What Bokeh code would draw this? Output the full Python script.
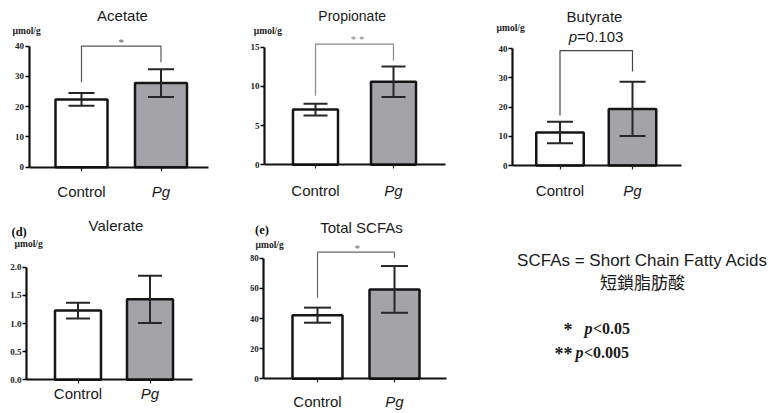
from bokeh.plotting import figure
from bokeh.layouts import column, row
from bokeh.models import (Range1d, LinearAxis, FixedTicker, ColumnDataSource,
                          Whisker, TeeHead, CustomJSTickFormatter, NumeralTickFormatter)
from bokeh.core.properties import value
from bokeh.embed import file_html
from bokeh.resources import INLINE

# ---------------- data ----------------
groups = ["Control", "Pg"]
group_style = ["normal", "italic"]

acetate_mean = [22.4, 27.8]
acetate_sem = [2.1, 4.6]
propionate_mean = [7.05, 10.6]
propionate_sem = [0.75, 1.95]
butyrate_mean = [11.3, 19.4]
butyrate_sem = [3.7, 9.3]
valerate_mean = [1.23, 1.43]
valerate_sem = [0.14, 0.42]
total_mean = [42.2, 59.3]
total_sem = [5.0, 15.5]

acetate_ticks = [0, 10, 20, 30, 40]
propionate_ticks = [0, 5, 10, 15]
butyrate_ticks = [0, 10, 20, 30, 40]
valerate_ticks = [0.0, 0.5, 1.0, 1.5, 2.0]
total_ticks = [0, 20, 40, 60, 80]

# significance brackets: [left leg end, top, right leg end]
acetate_bracket = [28.1, 40.0, 34.7]
propionate_bracket = [8.8, 15.4, 13.3]
butyrate_bracket = [17.1, 39.4, 32.2]
total_bracket = [53.7, 84.0, 80.3]

titles = ["Acetate", "Propionate", "Butyrate", "Valerate", "Total SCFAs"]
sig_marks = ["*", "* *", None, None, "*"]
unit_label = "\u00b5mol/g"

SANS = value("Liberation Sans")
SERIF = value("Liberation Serif")
BAR_FILL = ["white", "#a4a3a8"]


def make_panel(box, spine, axis_end, centers, bar_w, y0, ytop, ytop_val,
               mean, sem, ticks, bracket, title, title_xy, title_size,
               unit_xy, cat_y, cap, sig=None, sig_xy=None, br_color="#555",
               tag=None, tag_xy=None, tick_fmt="0"):
    ox, oy, w, h = box
    c1, c2 = centers
    dx = c2 - c1
    ys = (y0 - ytop) / ytop_val

    def X(px):
        return 1 + (px - c1) / dx

    def Y(py):
        return (y0 - py) / ys

    p = figure(width=w, height=h, x_range=Range1d(X(ox), X(ox + w)),
               y_range=Range1d(Y(oy + h), Y(oy)), x_axis_location=None,
               y_axis_location=None, toolbar_location=None,
               output_backend="svg", min_border=0, title=None)
    p.outline_line_color = None
    p.background_fill_color = "white"
    p.border_fill_color = "white"

    # bars
    p.vbar(x=[1, 2], top=mean, bottom=0, width=bar_w / dx,
           fill_color=BAR_FILL, line_color="#151515", line_width=2.5)

    # error bars
    src = ColumnDataSource(dict(x=[1, 2],
                                upper=[m + e for m, e in zip(mean, sem)],
                                lower=[m - e for m, e in zip(mean, sem)]))
    p.add_layout(Whisker(source=src, base="x", upper="upper", lower="lower",
                         level="overlay",
                         line_color="#262626", line_width=2,
                         upper_head=TeeHead(size=cap, line_color="#262626", line_width=2),
                         lower_head=TeeHead(size=cap, line_color="#262626", line_width=2)))

    # y axis
    yax = LinearAxis(fixed_location=X(spine), bounds=(0, ticks[-1]),
                     ticker=FixedTicker(ticks=ticks),
                     formatter=NumeralTickFormatter(format=tick_fmt))
    yax.axis_line_width = 2.2
    yax.axis_line_color = "#111"
    yax.major_tick_out = 4
    yax.major_tick_in = 0
    yax.major_tick_line_width = 1.5
    yax.minor_tick_line_color = None
    yax.major_label_standoff = 1
    yax.major_label_text_font = "Liberation Serif"
    yax.major_label_text_font_style = "bold"
    yax.major_label_text_font_size = "9px"
    yax.major_label_text_color = "#222"
    p.add_layout(yax, "left")

    # x axis: one axis per category so that "Pg" can be italic
    standoff = int(round(cat_y - y0 - 12))
    for i, (g, st) in enumerate(zip(groups, group_style)):
        xax = LinearAxis(fixed_location=0, bounds=(X(spine), X(axis_end)),
                         ticker=FixedTicker(ticks=[i + 1]),
                         formatter=CustomJSTickFormatter(code="return %r;" % g))
        xax.axis_line_width = 2.2
        xax.axis_line_color = "#111" if i == 0 else None
        xax.major_tick_out = 4
        xax.major_tick_in = 0
        xax.major_tick_line_width = 1.2
        xax.major_tick_line_color = "#222"
        xax.minor_tick_line_color = None
        xax.major_label_standoff = standoff
        xax.major_label_text_font = "Liberation Sans"
        xax.major_label_text_font_size = "15px"
        xax.major_label_text_font_style = st
        xax.major_label_text_color = "#1a1a1a"
        p.add_layout(xax, "below")

    # bracket
    if bracket is not None:
        p.line(x=[1, 1, 2, 2], y=[bracket[0], bracket[1], bracket[1], bracket[2]],
               line_color=br_color, line_width=1.2)
        p.text(x=[X(sig_xy[0])], y=[Y(sig_xy[1])], text=[sig], text_font=SERIF,
               text_font_size="11px", text_color=br_color, text_align="center",
               text_baseline="middle")

    # title
    p.text(x=[X(title_xy[0])], y=[Y(title_xy[1])], text=[title], text_font=SANS,
           text_font_size=title_size, text_color="#1a1a1a", text_align="center",
           text_baseline="middle")

    # unit label
    p.text(x=[X(unit_xy[0])], y=[Y(unit_xy[1])], text=[unit_label], text_font=SERIF,
           text_font_size="9.5px", text_font_style="bold", text_color="#222",
           text_align="left", text_baseline="middle")

    if tag is not None:
        p.text(x=[X(tag_xy[0])], y=[Y(tag_xy[1])], text=[tag], text_font=SERIF,
               text_font_size="12.5px", text_font_style="bold", text_color="#111",
               text_align="left", text_baseline="middle")
    return p, X, Y


p1, X1, Y1 = make_panel((0, 0, 250, 200), 28.5, 208, (81, 160.5), 52, 166.7, 45.7, 40,
                        acetate_mean, acetate_sem, acetate_ticks, acetate_bracket,
                        titles[0], (122, 15), "15px", (12, 30.7), 191, 26,
                        sig=sig_marks[0], sig_xy=(120.7, 41.5), br_color="#555")

p2, X2, Y2 = make_panel((250, 0, 240, 200), 264, 445, (315, 393), 45, 164.3, 46.7, 15,
                        propionate_mean, propionate_sem, propionate_ticks, propionate_bracket,
                        titles[1], (351.7, 15), "14px", (253.3, 30.7), 189.3, 24,
                        sig=sig_marks[1], sig_xy=(357, 38.5), br_color="#888")

p3, X3, Y3 = make_panel((490, 0, 286, 200), 512, 681, (559.5, 632), 47.5, 165, 48.3, 40,
                        butyrate_mean, butyrate_sem, butyrate_ticks, None,
                        titles[2], (594, 15.7), "15px", (496, 27.7), 189.3, 26)
# butyrate bracket with p-value
p3.line(x=[1, 1, 2, 2], y=[butyrate_bracket[0], butyrate_bracket[1], butyrate_bracket[1],
                          butyrate_bracket[2]], line_color="#444", line_width=1.2)
p3.text(x=[X3(576.6)], y=[Y3(35.7)], text=["p"], text_font=SANS, text_font_size="15px",
        text_font_style="italic", text_color="#1a1a1a", text_align="right",
        text_baseline="middle")
p3.text(x=[X3(576.6)], y=[Y3(35.7)], text=["=0.103"], text_font=SANS, text_font_size="15px",
        text_color="#1a1a1a", text_align="left", text_baseline="middle")

p4, X4, Y4 = make_panel((0, 200, 250, 213), 26, 192, (77.5, 149.5), 46, 379.3, 266.7, 2.0,
                        valerate_mean, valerate_sem, valerate_ticks, None,
                        titles[3], (115.5, 225), "15px", (14, 243.3), 392.7, 24,
                        tag="(d)", tag_xy=(11, 231.7), tick_fmt="0.0")

p5, X5, Y5 = make_panel((250, 200, 250, 213), 263.3, 446, (317, 394), 50, 378.3, 257.7, 80,
                        total_mean, total_sem, total_ticks, total_bracket,
                        titles[4], (361, 226.7), "15px", (255, 244), 400, 27,
                        sig=sig_marks[4], sig_xy=(356.7, 247.5), br_color="#666",
                        tag="(e)", tag_xy=(254.5, 229.5))

# ---------------- legend / note panel ----------------
p6 = figure(width=276, height=213, x_range=Range1d(0, 276), y_range=Range1d(213, 0),
            x_axis_location=None, y_axis_location=None, toolbar_location=None,
            output_backend="svg", min_border=0, title=None)
p6.outline_line_color = None
p6.text(x=[142], y=[60], text=["SCFAs = Short Chain Fatty Acids"], text_font=SANS,
        text_font_size="17px", text_color="#1a1a1a", text_align="center",
        text_baseline="middle")
p6.text(x=[142], y=[81], text=["短鎖脂肪酸"], text_font=value("Noto Sans CJK TC"),
        text_font_size="17px", text_color="#1a1a1a", text_align="center",
        text_baseline="middle")
p6.text(x=[72, 72], y=[129, 153.5], text=["*", "**"], text_font=SERIF,
        text_font_size="18px", text_font_style="bold", text_color="#1a1a1a",
        text_align="right", text_baseline="middle")
p6.text(x=[84, 75], y=[127.5, 152], text=["p", "p"], text_font=SERIF,
        text_font_size="16px", text_font_style="bold italic", text_color="#1a1a1a",
        text_align="left", text_baseline="middle")
p6.text(x=[92.5, 83.5], y=[127.5, 152], text=["<0.05", "<0.005"], text_font=SERIF,
        text_font_size="16px", text_font_style="bold", text_color="#1a1a1a",
        text_align="left", text_baseline="middle")

for p in (p1, p2, p3, p4, p5, p6):
    p.xgrid.visible = False
    p.ygrid.visible = False

layout = column(row(p1, p2, p3), row(p4, p5, p6))
open("out.html", "w").write(file_html(layout, INLINE))
